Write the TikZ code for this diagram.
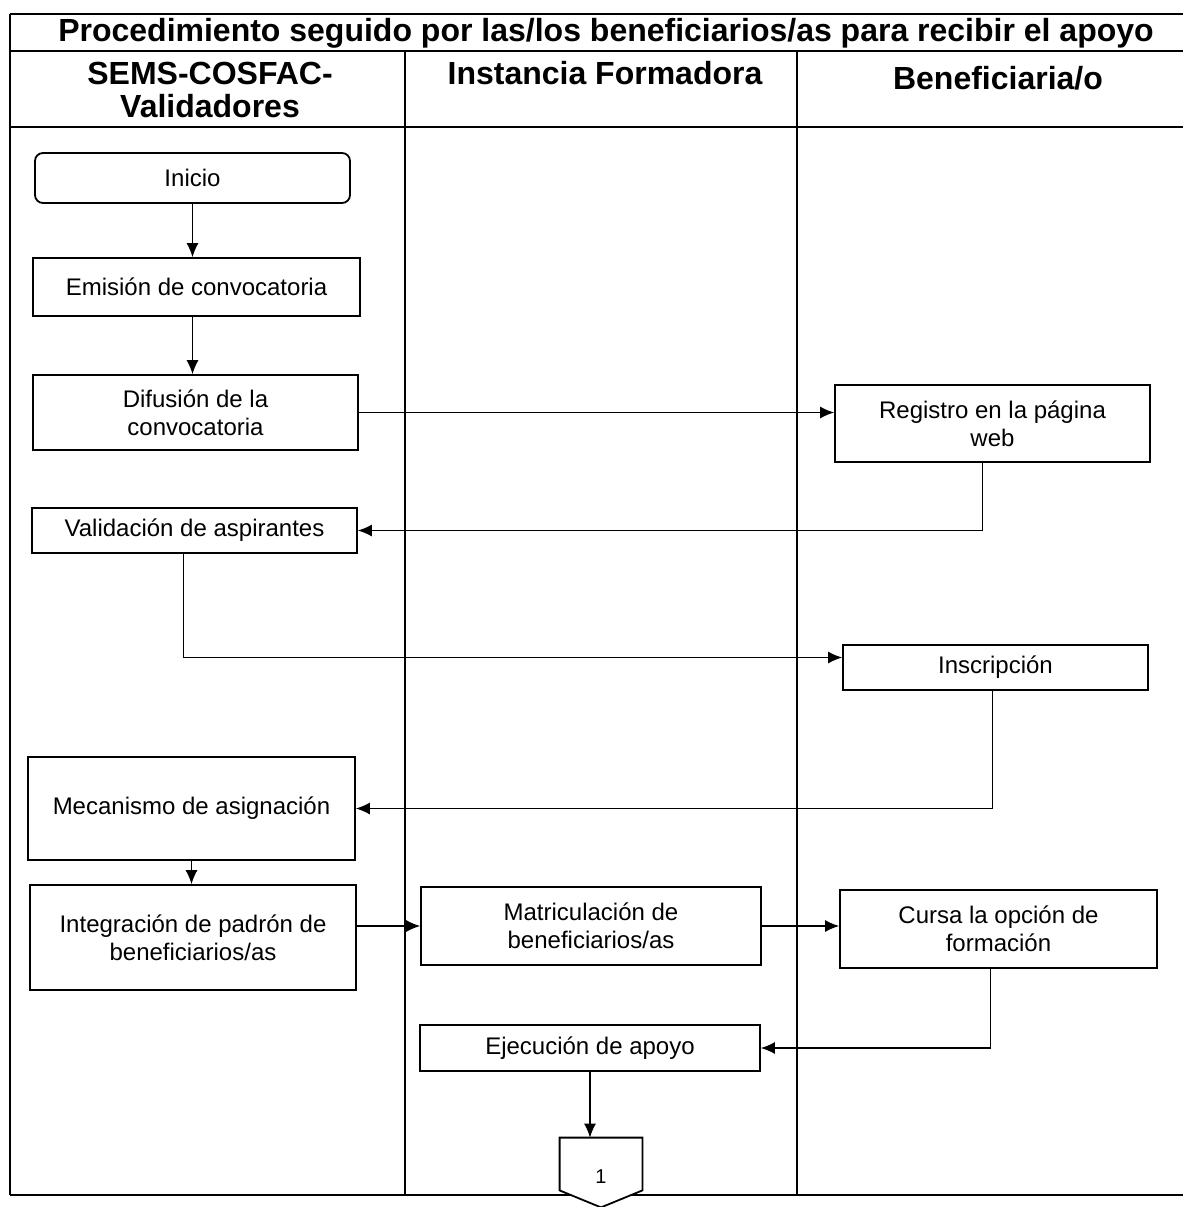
\documentclass[tikz,border=0pt]{standalone}
\usepackage{fontspec}
\setmainfont{Liberation Sans}
\usetikzlibrary{arrows.meta,positioning}

\begin{document}
\begin{tikzpicture}[x=0.5pt,y=-0.5pt,>={Latex[length=7pt,width=6pt]},
		proc node/.style={rectangle,draw,line width=0.9pt,fill=white,align=center,
			font=\fontsize{12}{14}\selectfont,inner sep=2pt},
		lane head/.style={align=center,font=\fontsize{16}{16.5}\selectfont\bfseries},
		lane line/.style={line width=0.8pt},
		flow/.style={->,line width=0.6pt}]

		\useasboundingbox (0,0) rectangle (1183,1207);

		% swimlanes
		\draw[lane line] (10,14) -- (1183,14);
		\draw[lane line] (10,51) -- (1183,51);
		\draw[lane line] (10,127) -- (1183,127);
		\draw[lane line] (10,1195) -- (1183,1195);
		\draw[lane line] (10,14) -- (10,1195);
		\draw[lane line] (405,51) -- (405,1195);
		\draw[lane line] (797,51) -- (797,1195);

		\node[lane head] (t) at (606,33) {Procedimiento seguido por las/los beneficiarios/as para recibir el apoyo};
		\node[lane head] (h1) at (210,90) {SEMS-COSFAC-\\Validadores};
		\node[lane head] (h2) at (605,73) {Instancia Formadora};
		\node[lane head] (h3) at (998,78) {Beneficiaria/o};

		% steps
		\node[proc node,rounded corners=4pt,minimum width=157.5pt,minimum height=25pt] (1) at (192.5,178) {Inicio};
		\node[proc node,minimum width=163.5pt,minimum height=29pt] (2) at (196.5,287) {Emisión de convocatoria};
		\node[proc node,minimum width=162.5pt,minimum height=37.5pt] (3) at (195.5,412.5) {Difusión de la\\convocatoria};
		\node[proc node,minimum width=157.5pt,minimum height=38.5pt] (4) at (992.5,423.5) {Registro en la página\\web};
		\node[proc node,minimum width=162.5pt,minimum height=22.5pt] (5) at (194.5,530.5) {Validación de aspirantes};
		\node[proc node,minimum width=152.5pt,minimum height=22.5pt] (6) at (995.5,667.5) {Inscripción};
		\node[proc node,minimum width=163.5pt,minimum height=51.5pt] (7) at (191.5,808.5) {Mecanismo de asignación};
		\node[proc node,minimum width=163pt,minimum height=52.5pt] (8) at (193,937.5) {Integración de padrón de\\beneficiarios/as};
		\node[proc node,minimum width=170pt,minimum height=39pt] (9) at (591,926) {Matriculación de\\beneficiarios/as};
		\node[proc node,minimum width=158.5pt,minimum height=39pt] (10) at (998.5,929) {Cursa la opción de\\formación};
		\node[proc node,minimum width=170pt,minimum height=23pt] (11) at (590,1048) {Ejecución de apoyo};
		\node[minimum width=41pt,minimum height=34.5pt,inner sep=0pt] (12) at (601,1172.5) {};
		\draw[line width=0.9pt,fill=white] (12.north west) -- (12.north east) -- ([yshift=8.5pt]12.south east)
			-- (12.south) -- ([yshift=8.5pt]12.south west) -- cycle;
		\node[font=\fontsize{10}{12}\selectfont] (12t) at ([yshift=-2pt]12) {1};

		% connectors
		\draw[flow] (1) -- (1.south |- 2.north);
		\draw[flow] (2.south -| 1) -- (3.north -| 1);
		\draw[flow] (3) -- (3 -| 4.west);
		\draw[flow] ([xshift=-5pt]4.south) |- (5.east);
		\draw[flow] ([xshift=-5.5pt]5.south) |- ([yshift=5pt]6.west);
		\draw[flow] ([xshift=-1.5pt]6.south) |- (7.east);
		\draw[flow] (7.south) -- (7.south |- 8.north);
		\draw[flow] (9.west -| 8.east) -- (9.west);
		\draw[flow] (9.east) -- (9.east -| 10.west);
		\draw[flow] ([xshift=-4pt]10.south) |- (11.east);
		\draw[flow] (11.south) -- (11.south |- 12.north);
\end{tikzpicture}
\end{document}
